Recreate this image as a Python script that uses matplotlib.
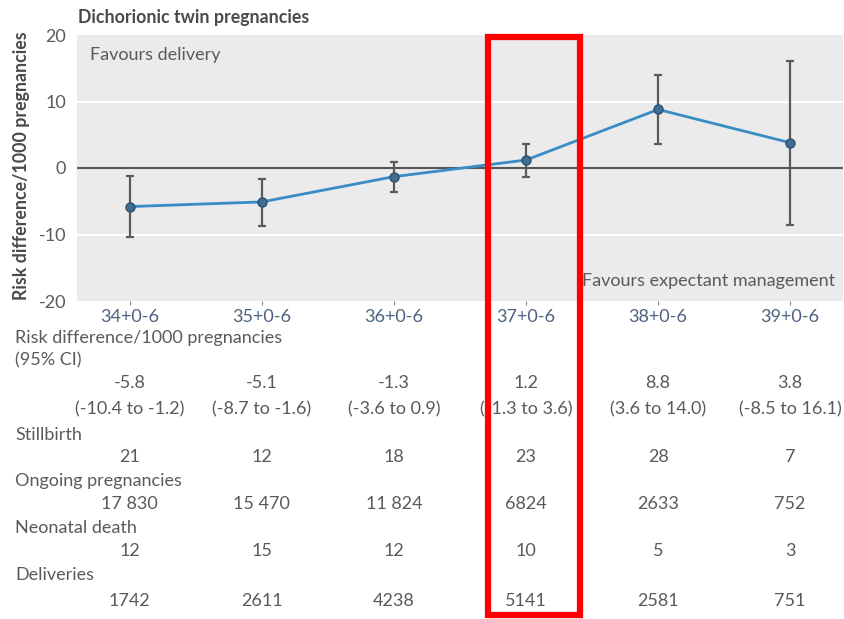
#!/usr/bin/env python3
"""
Risk difference per 1000 dichorionic twin pregnancies by gestational week,
with the underlying counts tabulated underneath
"""
import matplotlib
matplotlib.use('Agg')
import matplotlib.pyplot as plt
from matplotlib.patches import Rectangle
from matplotlib.transforms import blended_transform_factory

plt.rcParams['font.family'] = ['Lato', 'DejaVu Sans']
plt.rcParams['axes.unicode_minus'] = False

weeks = ['34+0-6', '35+0-6', '36+0-6', '37+0-6', '38+0-6', '39+0-6']
risk_diff = [-5.8, -5.1, -1.3, 1.2, 8.8, 3.8]
ci_low = [-10.4, -8.7, -3.6, -1.3, 3.6, -8.5]
ci_high = [-1.2, -1.6, 0.9, 3.6, 14.0, 16.1]
stillbirth = [21, 12, 18, 23, 28, 7]
ongoing = ['17 830', '15 470', '11 824', '6824', '2633', '752']
neonatal_death = [12, 15, 12, 10, 5, 3]
deliveries = [1742, 2611, 4238, 5141, 2581, 751]
highlight_week = '37+0-6'

TEXT = '#5a5a5a'
FS = 13
W, H = 844, 619

fig = plt.figure(figsize=(W / 100, H / 100), dpi=100)
ax = fig.add_axes([77 / W, (H - 301) / H, (843 - 77) / W, 266 / H])
ax.set_facecolor('#ebebeb')

x = list(range(len(weeks)))
yerr = [[m - lo for m, lo in zip(risk_diff, ci_low)],
        [hi - m for m, hi in zip(risk_diff, ci_high)]]

for y in (10, -10):
    ax.axhline(y, color='white', linewidth=1.5, zorder=1)
ax.axhline(0, color='#555555', linewidth=1.5, zorder=2)

ax.errorbar(x, risk_diff, yerr=yerr, fmt='none', ecolor='#5b5b5b',
            elinewidth=1.6, capsize=3, capthick=1.6, zorder=3)
ax.plot(x, risk_diff, color='#3a8cc6', linewidth=2, zorder=4)
ax.plot(x, risk_diff, 'o', markersize=6.5, markerfacecolor='#3f6f95',
        markeredgecolor='#2c4f6e', markeredgewidth=1, zorder=5)

ax.set_xlim(-0.4, 5.4)
ax.set_ylim(-20, 20)
ax.set_yticks([-20, -10, 0, 10, 20])
ax.set_xticks(x)
ax.set_xticklabels(weeks, fontsize=FS, color='#4a6280')
ax.tick_params(axis='y', length=0, labelsize=FS, labelcolor=TEXT, pad=8)
ax.tick_params(axis='x', length=3, color='#888888', pad=3)
for spine in ax.spines.values():
    spine.set_visible(False)

ax.text(0.017, 0.925, 'Favours delivery', transform=ax.transAxes,
        fontsize=FS, color=TEXT, va='center')
ax.text(0.99, 0.075, 'Favours expectant management', transform=ax.transAxes,
        fontsize=FS, color=TEXT, va='center', ha='right')

fig.text(78 / W, 1 - 18 / H, 'Dichorionic twin pregnancies',
         fontsize=12.8, fontweight='bold', color='#4a4a4a', va='center')
fig.text(22 / W, 1 - 166 / H, 'Risk difference/1000 pregnancies',
         fontsize=12.8, fontweight='bold', color='#4a4a4a',
         rotation=90, va='center', ha='center')

# table rows under the axis: x follows the category scale, y in figure pixels
col = blended_transform_factory(ax.transData, fig.transFigure)
row_x = 15 / W

def fy(pix):
    return 1 - pix / H

headers = [('Risk difference/1000 pregnancies', 338), ('(95% CI)', 360),
           ('Stillbirth', 435), ('Ongoing pregnancies', 481),
           ('Neonatal death', 528), ('Deliveries', 575)]
for label, pix in headers:
    fig.text(row_x, fy(pix), label, fontsize=FS, color=TEXT, va='center')

rows = [
    (['{:.1f}'.format(v) for v in risk_diff], 383),
    (['({:.1f} to {:.1f})'.format(lo, hi) for lo, hi in zip(ci_low, ci_high)], 409),
    ([str(v) for v in stillbirth], 457),
    (ongoing, 504),
    ([str(v) for v in neonatal_death], 551),
    ([str(v) for v in deliveries], 601),
]
for values, pix in rows:
    for xi, val in zip(x, values):
        fig.text(xi, fy(pix), val, transform=col, fontsize=FS, color=TEXT,
                 ha='center', va='center')

hi = weeks.index(highlight_week)
fig.patches.append(Rectangle((hi - 0.29, fy(615)), 0.70, (615 - 37) / H,
                             transform=col, fill=False, edgecolor='#ff0000',
                             linewidth=4.5, zorder=10))

fig.savefig('out.png', dpi=100)
